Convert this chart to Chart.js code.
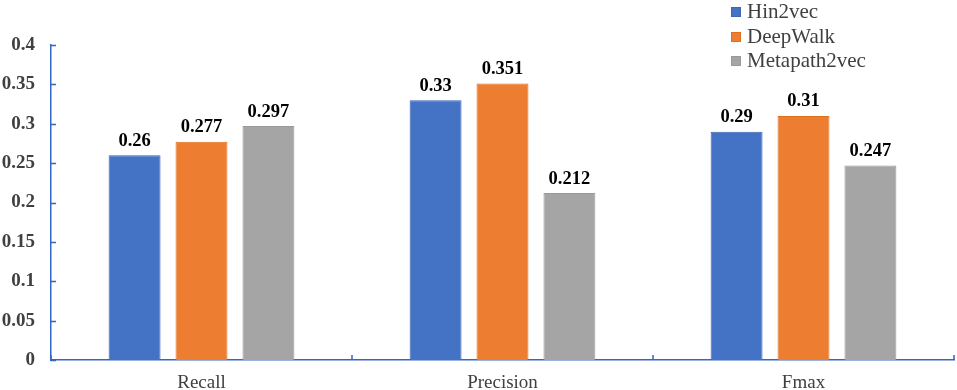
<!DOCTYPE html>
<html>
<head>
<meta charset="utf-8">
<script src="https://cdn.jsdelivr.net/npm/chart.js@4/dist/chart.umd.min.js"></script>
<style>
  html, body { margin: 0; padding: 0; background: #fff; }
  #wrap { position: relative; width: 957px; height: 390px; }
  #legend { position: absolute; left: 731px; top: -1px; font-family: 'Liberation Serif', serif; font-size: 21px; color: #404040; }
  #legend div { height: 24.5px; line-height: 24.5px; white-space: nowrap; }
  #legend span { display: inline-block; width: 10px; height: 10px; margin-right: 6px; vertical-align: 1px; box-sizing: border-box; }
</style>
</head>
<body>
<div id="wrap">
  <canvas id="plot" width="957" height="390"></canvas>
  <div id="legend"></div>
</div>
<script>
var categories = ['Recall', 'Precision', 'Fmax'];
var hin2vec = [0.26, 0.33, 0.29];
var deepWalk = [0.277, 0.351, 0.31];
var metapath2vec = [0.297, 0.212, 0.247];
var yTicks = [0, 0.05, 0.1, 0.15, 0.2, 0.25, 0.3, 0.35, 0.4];

var seriesNames = ['Hin2vec', 'DeepWalk', 'Metapath2vec'];
var fills = ['#4472C4', '#ED7D31', '#A5A5A5'];
var borders = ['#3A64B4', '#E0701F', '#999999'];
var axisColor = '#3566C4';

var data = {
    labels: categories,
    datasets: [hin2vec, deepWalk, metapath2vec].map(function (vals, i) {
        return {
            label: seriesNames[i],
            data: vals,
            backgroundColor: fills[i],
            borderColor: borders[i],
            borderWidth: 1,
            categoryPercentage: 0.667,
            barPercentage: 0.776
        };
    })
};

// value labels above bars + inward axis ticks
var extras = {
    id: 'extras',
    afterDatasetsDraw: function (chart) {
        var ctx = chart.ctx;
        ctx.save();
        ctx.font = 'bold 18.5px "Liberation Serif"';
        ctx.fillStyle = '#000';
        ctx.textAlign = 'center';
        ctx.textBaseline = 'bottom';
        chart.data.datasets.forEach(function (ds, i) {
            chart.getDatasetMeta(i).data.forEach(function (bar, j) {
                ctx.fillText(String(ds.data[j]), bar.x, bar.y - 5);
            });
        });
        // tick marks
        var x = chart.scales.x, y = chart.scales.y;
        ctx.strokeStyle = axisColor;
        ctx.lineWidth = 1.5;
        ctx.beginPath();
        y.ticks.forEach(function (t) {
            var py = Math.round(y.getPixelForValue(t.value)) + 0.5;
            ctx.moveTo(y.right, py);
            ctx.lineTo(y.right + 5, py);
        });
        var n = categories.length;
        for (var k = 0; k <= n; k++) {
            var px = x.getPixelForValue(k - 0.5);
            ctx.moveTo(px, x.top);
            ctx.lineTo(px, x.top - 5);
        }
        ctx.stroke();
        ctx.restore();
    }
};

var layout = {
    type: 'bar',
    data: data,
    options: {
        responsive: false,
        animation: false,
        layout: { padding: { top: 45, right: 3, left: 0, bottom: 0 } },
        scales: {
            x: {
                offset: true,
                grid: { display: false },
                border: { color: axisColor, width: 1.5 },
                ticks: {
                    color: '#404040',
                    font: { family: 'Liberation Serif', size: 19 },
                    padding: 4
                },
                afterFit: function (s) { s.height = 30; }
            },
            y: {
                min: 0,
                max: 0.4,
                afterBuildTicks: function (s) {
                    s.ticks = yTicks.map(function (v) { return { value: v }; });
                },
                grid: { display: false, drawTicks: false },
                border: { color: axisColor, width: 1.5 },
                ticks: {
                    color: '#404040',
                    padding: 16,
                    font: { family: 'Liberation Serif', size: 19, weight: 'bold' },
                    callback: function (v) { return String(+v.toFixed(2)); }
                },
                afterFit: function (s) { s.width = 51; }
            }
        },
        plugins: {
            legend: { display: false },
            tooltip: { enabled: false }
        }
    },
    plugins: [extras]
};

new Chart(document.getElementById('plot'), layout);

var legend = document.getElementById('legend');
seriesNames.forEach(function (name, i) {
    var row = document.createElement('div');
    var box = document.createElement('span');
    box.style.background = fills[i];
    box.style.border = '1px solid ' + borders[i];
    row.appendChild(box);
    row.appendChild(document.createTextNode(name));
    legend.appendChild(row);
});
</script>
</body>
</html>
